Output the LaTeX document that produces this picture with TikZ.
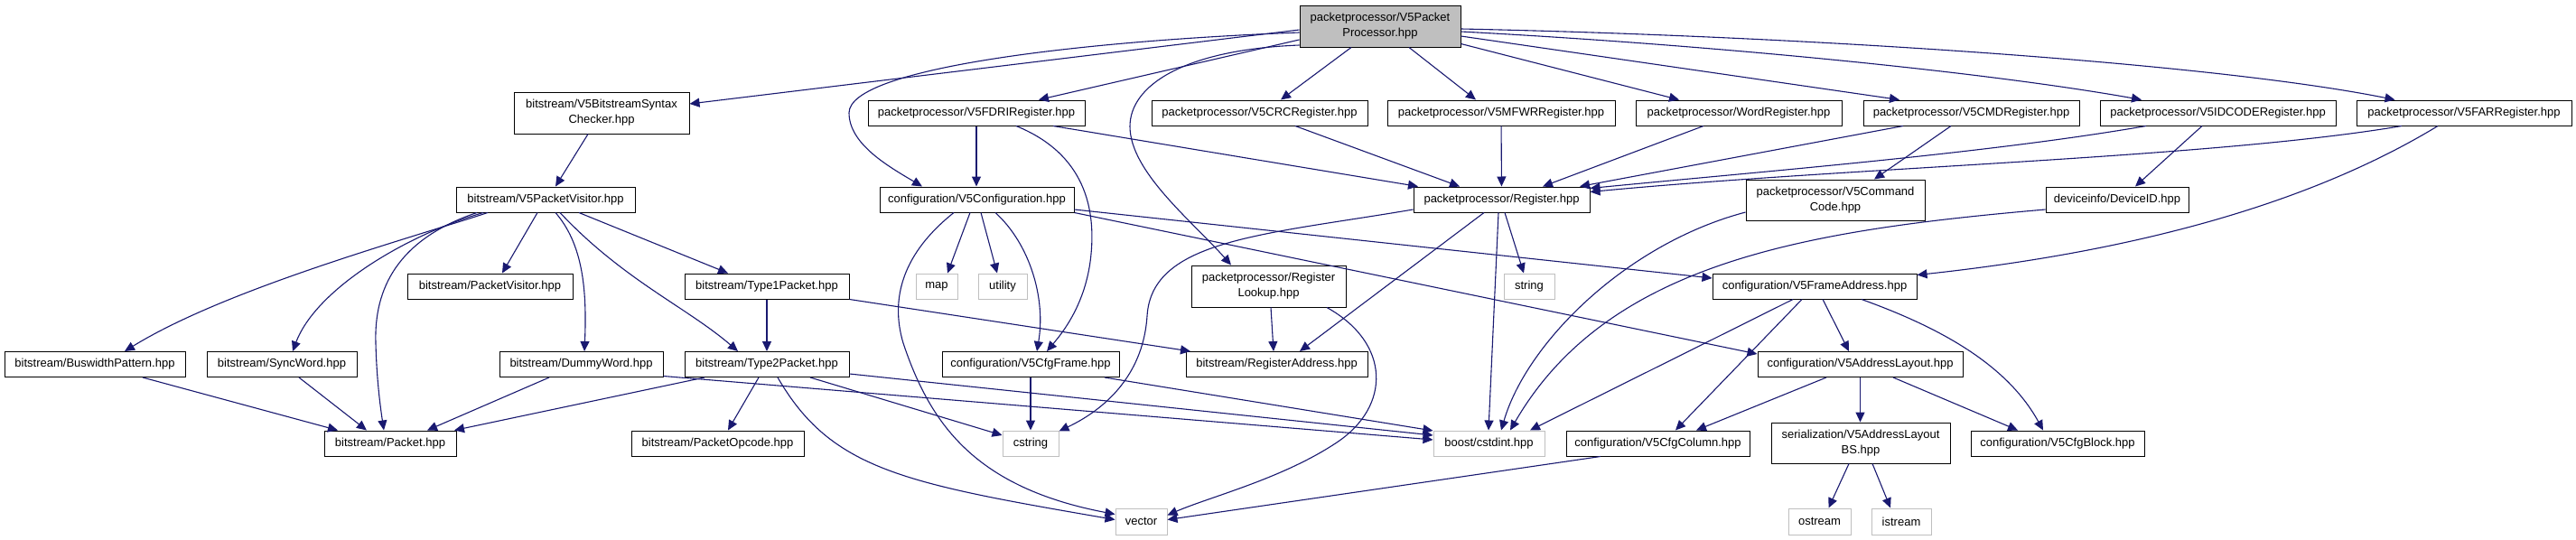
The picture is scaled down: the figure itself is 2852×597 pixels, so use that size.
\documentclass[tikz,border=0pt]{standalone}
\usepackage{fontspec}
\setmainfont{Liberation Sans}
\usetikzlibrary{arrows.meta}
\definecolor{edgec}{HTML}{191970}
\definecolor{sysc}{HTML}{BFBFBF}
\begin{document}
\begin{tikzpicture}[x=1pt,y=-1pt,
  box/.style={draw=black, line width=1pt, fill=white, inner sep=0pt, align=center, font=\fontsize{13}{17}\selectfont},
  sys/.style={box, draw=sysc},
  mainbox/.style={box, fill=sysc},
  wh/.style 2 args={minimum width=#1pt, minimum height=#2pt},
  e/.style={draw=edgec, line width=1.1pt, -{Triangle[length=11pt,width=10pt]}}]
\useasboundingbox (0,0) rectangle (2852,597);
\fill[white] (0,0) rectangle (2852,597);

\node[mainbox,wh={178}{46}] (pp) at (1528,29) {packetprocessor/V5Packet\\Processor.hpp};
\node[box,wh={194}{46}] (chk) at (666,125) {bitstream/V5BitstreamSyntax\\Checker.hpp};
\node[box,wh={240}{28}] (fdri) at (1081,125) {packetprocessor/V5FDRIRegister.hpp};
\node[box,wh={239}{28}] (crc) at (1394.5,125) {packetprocessor/V5CRCRegister.hpp};
\node[box,wh={252}{28}] (mfwr) at (1662,125) {packetprocessor/V5MFWRRegister.hpp};
\node[box,wh={228}{28}] (word) at (1925,125) {packetprocessor/WordRegister.hpp};
\node[box,wh={239}{28}] (cmd) at (2182.5,125) {packetprocessor/V5CMDRegister.hpp};
\node[box,wh={261}{28}] (idc) at (2455.5,125) {packetprocessor/V5IDCODERegister.hpp};
\node[box,wh={238}{28}] (far) at (2728,125) {packetprocessor/V5FARRegister.hpp};
\node[box,wh={198}{28}] (pvis) at (604,221) {bitstream/V5PacketVisitor.hpp};
\node[box,wh={215}{28}] (conf) at (1081.5,221) {configuration/V5Configuration.hpp};
\node[box,wh={195}{28}] (reg) at (1662.5,221) {packetprocessor/Register.hpp};
\node[box,wh={198}{45}] (cmdc) at (2032,221.5) {packetprocessor/V5Command\\Code.hpp};
\node[box,wh={158}{28}] (dev) at (2344,221) {deviceinfo/DeviceID.hpp};
\node[box,wh={183}{28}] (pv) at (542.5,317) {bitstream/PacketVisitor.hpp};
\node[box,wh={182}{28}] (t1) at (849,317) {bitstream/Type1Packet.hpp};
\node[sys,wh={46}{28}] (map) at (1037,317) {map};
\node[sys,wh={54}{28}] (util) at (1110,317) {utility};
\node[box,wh={171}{46}] (rlk) at (1404.5,317) {packetprocessor/Register\\Lookup.hpp};
\node[sys,wh={56}{28}] (str) at (1693,317) {string};
\node[box,wh={226}{28}] (fa) at (2009,317) {configuration/V5FrameAddress.hpp};
\node[box,wh={200}{28}] (bus) at (105,403.5) {bitstream/BuswidthPattern.hpp};
\node[box,wh={166}{28}] (sync) at (312,403.5) {bitstream/SyncWord.hpp};
\node[box,wh={181}{28}] (dummy) at (643.5,403.5) {bitstream/DummyWord.hpp};
\node[box,wh={182}{28}] (t2) at (849,403.5) {bitstream/Type2Packet.hpp};
\node[box,wh={196}{28}] (cfr) at (1141,403.5) {configuration/V5CfgFrame.hpp};
\node[box,wh={201}{28}] (ra) at (1413.5,403.5) {bitstream/RegisterAddress.hpp};
\node[box,wh={227}{28}] (al) at (2059.5,403.5) {configuration/V5AddressLayout.hpp};
\node[box,wh={146}{28}] (pkt) at (432,491) {bitstream/Packet.hpp};
\node[box,wh={191}{28}] (op) at (794.5,491) {bitstream/PacketOpcode.hpp};
\node[sys,wh={62}{28}] (cstr) at (1141,491) {cstring};
\node[sys,wh={123}{28}] (cint) at (1648.5,491) {boost/cstdint.hpp};
\node[box,wh={203}{28}] (col) at (1835.5,491) {configuration/V5CfgColumn.hpp};
\node[box,wh={198}{45}] (albs) at (2060,490.5) {serialization/V5AddressLayout\\BS.hpp};
\node[box,wh={192}{28}] (blk) at (2278,491) {configuration/V5CfgBlock.hpp};
\node[sys,wh={57}{29}] (vec) at (1263.5,577.5) {vector};
\node[sys,wh={69}{29}] (ost) at (2014.5,577.5) {ostream};
\node[sys,wh={66}{29}] (ist) at (2105,577.5) {istream};

% from V5PacketProcessor
\draw[e] ([yshift=-4pt]pp.west) -- ([yshift=10pt]chk.east);
\draw[e] ([yshift=-7pt]pp.west) .. controls (1200,45) and (940,75) .. (940,125) .. controls (940,160) and (985,185) .. ([xshift=-60.5pt]conf.north);
\draw[e] ([yshift=-15pt]pp.west) -- ([xshift=69pt]fdri.north);
\draw[e] ([yshift=-21pt]pp.west) .. controls (1310,55) and (1251,95) .. (1251,140) .. controls (1251,190) and (1320,245) .. ([xshift=-41.5pt]rlk.north);
\draw[e] ([xshift=-32pt]pp.south) -- ([xshift=23.5pt]crc.north);
\draw[e] ([xshift=32pt]pp.south) -- ([xshift=-28pt]mfwr.north);
\draw[e] ([yshift=4pt]pp.south east) -- ([xshift=-66pt]word.north);
\draw[e] ([yshift=-11pt]pp.east) -- ([xshift=-79.5pt]cmd.north);
\draw[e] ([yshift=-6pt]pp.east) .. controls (1900,50) and (2200,80) .. ([xshift=-84.5pt]idc.north);
\draw[e] ([yshift=-3pt]pp.east) .. controls (2000,40) and (2450,70) .. ([xshift=-76.5pt]far.north);

\draw[e] ([xshift=-15pt]chk.south) -- ([xshift=11pt]pvis.north);

% from V5PacketVisitor
\draw[e] ([xshift=-64pt]pvis.south) .. controls (450,265) and (250,320) .. ([xshift=33pt]bus.north);
\draw[e] ([xshift=-69pt]pvis.south) .. controls (450,260) and (350,320) .. ([xshift=12pt]sync.north);
\draw[e] ([xshift=-76pt]pvis.south) .. controls (440,265) and (414,320) .. (416,380) .. controls (417,420) and (421,450) .. ([xshift=-7pt]pkt.north);
\draw[e] ([xshift=-9pt]pvis.south) -- ([xshift=13.5pt]pv.north);
\draw[e] ([xshift=11pt]pvis.south) .. controls (645,270) and (650,320) .. ([xshift=3.5pt]dummy.north);
\draw[e] ([xshift=16pt]pvis.south) .. controls (690,310) and (760,340) .. ([xshift=-32pt]t2.north);
\draw[e] ([xshift=37pt]pvis.south) -- ([xshift=-43pt]t1.north);

% bitstream
\draw[e] (t1) -- (t2);
\draw[e] (t1.south east) -- ([xshift=-95.5pt]ra.north);
\draw[e] ([xshift=-69pt]t2.south) -- ([xshift=71pt]pkt.north);
\draw[e] ([xshift=-9pt]t2.south) -- ([xshift=11.5pt]op.north);
\draw[e] ([xshift=48pt]t2.south) -- ([yshift=9pt]cstr.west);
\draw[e] ([xshift=12pt]t2.south) .. controls (920,520) and (1000,535) .. ([yshift=2pt]vec.west);
\draw[e] ([yshift=-10.5pt]t2.east) -- ([yshift=9pt]cint.west);
\draw[e] ([xshift=-35.5pt]dummy.south) -- ([xshift=41pt]pkt.north);
\draw[e] ([yshift=-13pt]dummy.east) -- ([yshift=4pt]cint.west);
\draw[e] ([xshift=19pt]sync.south) -- ([xshift=-26pt]pkt.north);
\draw[e] ([xshift=53pt]bus.south) -- ([xshift=-58pt]pkt.north);

% registers
\draw[e] (fdri.south) -- (fdri.south |- conf.north);
\draw[e] ([xshift=44pt]fdri.south) .. controls (1200,170) and (1215,230) .. (1207,290) .. controls (1200,340) and (1175,370) .. ([xshift=18pt]cfr.north);
\draw[e] ([xshift=85pt]fdri.south) -- ([xshift=-92.5pt]reg.north);
\draw[e] ([xshift=39.5pt]crc.south) -- ([xshift=-46.5pt]reg.north);
\draw[e] (mfwr) -- (reg);
\draw[e] ([xshift=-39pt]word.south) -- ([xshift=45.5pt]reg.north);
\draw[e] ([xshift=-75.5pt]cmd.south) -- ([xshift=86.5pt]reg.north);
\draw[e] ([xshift=-79.5pt]idc.south) .. controls (2200,170) and (1950,190) .. ([yshift=-2pt]reg.north east);
\draw[e] ([xshift=-69pt]far.south) .. controls (2450,175) and (2050,185) .. ([yshift=-6pt]reg.north east);
\draw[e] ([xshift=-22.5pt]cmd.south) -- ([xshift=43pt]cmdc.north);
\draw[e] ([xshift=-17.5pt]idc.south) -- ([xshift=20pt]dev.north);
\draw[e] ([xshift=-29pt]far.south) .. controls (2550,230) and (2350,280) .. ([yshift=-2pt]fa.north east);
\draw[e] ([yshift=-13.5pt]cmdc.west) .. controls (1800,270) and (1690,380) .. ([xshift=13.5pt]cint.north);
\draw[e] ([yshift=-11pt]dev.west) .. controls (2000,255) and (1780,290) .. ([xshift=23.5pt]cint.north);
\draw[e] ([xshift=-3.5pt]reg.south) -- ([xshift=-0.5pt]cint.north);
\draw[e] ([xshift=3.5pt]reg.south) -- ([xshift=-6pt]str.north);
\draw[e] ([xshift=-19.5pt]reg.south) -- ([xshift=25.5pt]ra.north);
\draw[e] ([yshift=-11pt]reg.west) .. controls (1400,260) and (1275,265) .. (1270,350) .. controls (1266,410) and (1230,450) .. ([yshift=-1pt]cstr.north east);

% configuration
\draw[e] ([xshift=-7.5pt]conf.south) -- ([xshift=12pt]map.north);
\draw[e] ([xshift=4.5pt]conf.south) -- ([xshift=-6pt]util.north);
\draw[e] ([xshift=20.5pt]conf.south) .. controls (1140,270) and (1158,330) .. ([xshift=7pt]cfr.north);
\draw[e] ([xshift=-25.5pt]conf.south) .. controls (1000,280) and (985,330) .. (1000,380) .. controls (1030,470) and (1080,540) .. ([yshift=8pt]vec.west);
\draw[e] ([yshift=-11pt]conf.east) -- ([yshift=9pt]fa.west);
\draw[e] (conf.south east) -- ([yshift=-3pt]al.north west);
\draw[e] (cfr) -- (cstr);
\draw[e] ([xshift=82pt]cfr.south) -- ([yshift=14pt]cint.west);
\draw[e] ([xshift=2.5pt]rlk.south) -- ([xshift=-3.5pt]ra.north);
\draw[e] ([xshift=64.5pt]rlk.south) .. controls (1540,380) and (1540,450) .. (1480,490) .. controls (1420,530) and (1340,550) .. ([yshift=7pt]vec.east);
\draw[e] ([xshift=-63.5pt]col.south) -- ([yshift=2pt]vec.east);
\draw[e] ([xshift=-24pt]fa.south) -- ([xshift=45.5pt]cint.north);
\draw[e] ([xshift=-14pt]fa.south) -- ([xshift=19.5pt]col.north);
\draw[e] ([xshift=9pt]fa.south) -- ([xshift=-12.5pt]al.north);
\draw[e] ([xshift=52pt]fa.south) .. controls (2140,360) and (2220,400) .. ([xshift=-16pt]blk.north);
\draw[e] ([xshift=-37.5pt]al.south) -- ([xshift=42.5pt]col.north);
\draw[e] (al.south) -- (al.south |- albs.north);
\draw[e] ([xshift=36.5pt]al.south) -- ([xshift=-44pt]blk.north);
\draw[e] ([xshift=-13pt]albs.south) -- ([xshift=10pt]ost.north);
\draw[e] ([xshift=13pt]albs.south) -- ([xshift=-12pt]ist.north);
\end{tikzpicture}
\end{document}
